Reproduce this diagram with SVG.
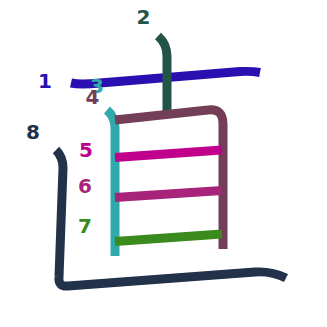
<svg xmlns="http://www.w3.org/2000/svg" width="327" height="327" viewBox="0 0 327 327">
<style>
.s{fill:none;stroke-width:9;stroke-linecap:butt;stroke-linejoin:round}
.t{font-family:"DejaVu Sans",sans-serif;font-weight:bold;font-size:20px;text-anchor:middle}
</style>
<rect width="327" height="327" fill="#fff"/>
<g id="connectors">
<path id="s1" class="s" stroke="#2a10b0" d="M71,83 Q80,85 100,83 L240,71.5 Q252,71 260,72.5"/>
<path id="s2" class="s" stroke="#245448" d="M158,36 Q167,44 167,56 L167,113"/>
<path id="s3" class="s" stroke="#2fa9a9" d="M107,110 Q115,117 115,128 L115,256"/>
<path id="s4" class="s" stroke="#733f58" d="M115,120 L208,110 Q223,108 223,124 L223,249"/>
<path id="s5" class="s" stroke="#c0008c" d="M115,157.5 L222,150"/>
<path id="s6" class="s" stroke="#a8247a" d="M115,197.5 L222,190.5"/>
<path id="s7" class="s" stroke="#3a8a1e" d="M115,241.5 L222,234"/>
<path id="s8" class="s" stroke="#22324a" d="M56,150 Q63,157 63,168 L59,277 Q58,287 68,286 L255,272 Q272,271 286,278"/>
</g>
<g id="n1"><text class="t" x="45" y="88" fill="#2a10b0">1</text></g>
<g id="n2"><text class="t" x="143.5" y="24" fill="#245448">2</text></g>
<g id="n3"><text class="t" x="97" y="93" fill="#2fa9a9">3</text></g>
<g id="n4"><text class="t" x="92.5" y="104" fill="#733f58">4</text></g>
<g id="n5"><text class="t" x="86" y="157" fill="#c0008c">5</text></g>
<g id="n6"><text class="t" x="85" y="193" fill="#a8247a">6</text></g>
<g id="n7"><text class="t" x="85" y="233" fill="#3a8a1e">7</text></g>
<g id="n8"><text class="t" x="33" y="139" fill="#22324a">8</text></g>
</svg>
